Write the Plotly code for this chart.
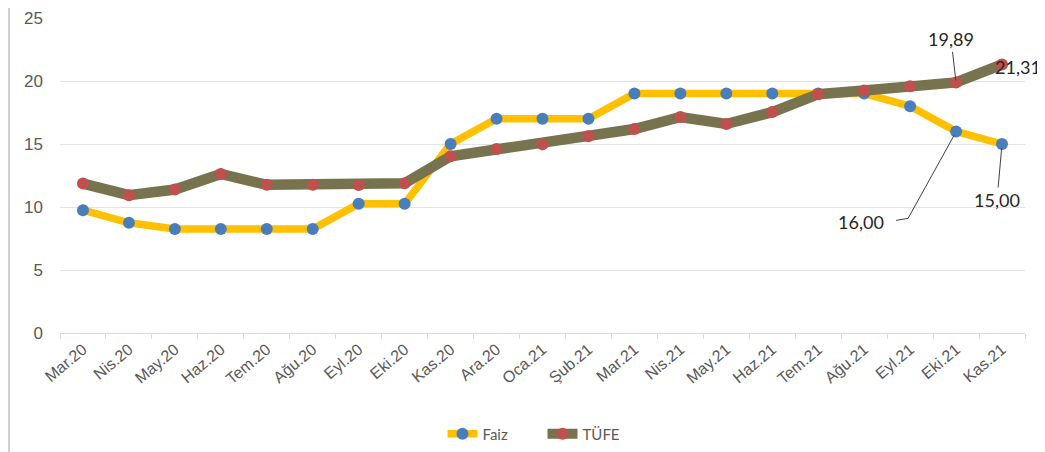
import plotly.graph_objects as go

months = ["Mar.20", "Nis.20", "May.20", "Haz.20", "Tem.20", "Ağu.20", "Eyl.20", "Eki.20",
          "Kas.20", "Ara.20", "Oca.21", "Şub.21", "Mar.21", "Nis.21", "May.21", "Haz.21",
          "Tem.21", "Ağu.21", "Eyl.21", "Eki.21", "Kas.21"]
faiz = [9.75, 8.75, 8.25, 8.25, 8.25, 8.25, 10.25, 10.25, 15.0, 17.0, 17.0, 17.0,
        19.0, 19.0, 19.0, 19.0, 19.0, 19.0, 18.0, 16.0, 15.0]
tufe = [11.86, 10.94, 11.39, 12.62, 11.76, 11.77, 11.75, 11.89, 14.03, 14.60, 14.97, 15.61,
        16.19, 17.14, 16.59, 17.53, 18.95, 19.25, 19.58, 19.89, 21.31]
y_ticks = [0, 5, 10, 15, 20, 25]

def fmt(v):
    return f"{v:.2f}".replace(".", ",")

fig = go.Figure()
fig.add_trace(go.Scatter(
    x=months, y=faiz, name="Faiz", mode="lines+markers",
    line=dict(color="#FFC000", width=7.5),
    marker=dict(color="#4A7EBB", size=12),
))
fig.add_trace(go.Scatter(
    x=months, y=tufe, name="TÜFE", mode="lines+markers",
    line=dict(color="#77734F", width=10.5),
    marker=dict(color="#C0504D", size=12),
))

ann_font = dict(family="Lato, Carlito, sans-serif", size=18, color="#262626")
# TÜFE Eki.21
fig.add_annotation(x=months[19], y=tufe[19], text=fmt(tufe[19]), showarrow=True,
                   arrowhead=0, arrowwidth=1, arrowcolor="#404040", ax=-5, ay=-43,
                   standoff=2, font=ann_font)
# TÜFE Kas.21
fig.add_annotation(x=months[20], y=tufe[20], text=fmt(tufe[20]), showarrow=False,
                   xshift=16, yshift=-3, font=ann_font)
# Faiz Kas.21
fig.add_annotation(x=months[20], y=faiz[20], text=fmt(faiz[20]), showarrow=True,
                   arrowhead=0, arrowwidth=1, arrowcolor="#404040", ax=-5, ay=56,
                   standoff=4, font=ann_font)
# Faiz Eki.21 (bent leader line)
fig.add_annotation(x=months[19], y=faiz[19], text=fmt(faiz[19]), showarrow=False,
                   xshift=-95, yshift=-91, font=ann_font)
fig.add_shape(type="path", xref="x", yref="y", xsizemode="pixel", ysizemode="pixel",
              xanchor=months[19], yanchor=faiz[19],
              path="M -60,-89 L -48,-87 L -2,-4",
              line=dict(color="#404040", width=1))

# left frame line
fig.add_shape(type="line", xref="paper", yref="paper", x0=-0.0528, x1=-0.0528,
              y0=-0.41, y1=1.04, line=dict(color="#D0D0D0", width=2))

fig.update_layout(
    width=1045, height=452,
    margin=dict(l=52, r=28, t=10, b=127, autoexpand=False),
    paper_bgcolor="white", plot_bgcolor="white",
    showlegend=True,
    legend=dict(orientation="h", x=0.5, xanchor="center", yref="container",
                y=0.0575, yanchor="middle", entrywidth=55, entrywidthmode="pixels",
                font=dict(family="Lato, Carlito, sans-serif", size=15, color="#595959"),
                traceorder="normal"),
    xaxis=dict(
        type="category", range=[-0.5, 20.5], tickangle=-40,
        tickfont=dict(family="Liberation Sans, Arial, sans-serif", size=16, color="#595959"),
        showgrid=False, showline=True, linecolor="#D9D9D9", linewidth=1,
        ticks="outside", tickson="boundaries", ticklen=5, tickcolor="#D9D9D9",
        zeroline=False, automargin=False,
    ),
    yaxis=dict(
        range=[0, 25], tickvals=y_ticks,
        tickfont=dict(family="Liberation Sans, Arial, sans-serif", size=17, color="#595959"),
        showgrid=True, gridcolor="#E3E3E3", gridwidth=1,
        zeroline=False, showline=False, ticks="", ticklabelstandoff=16,
        automargin=False,
    ),
)

fig.write_html("out.html")
